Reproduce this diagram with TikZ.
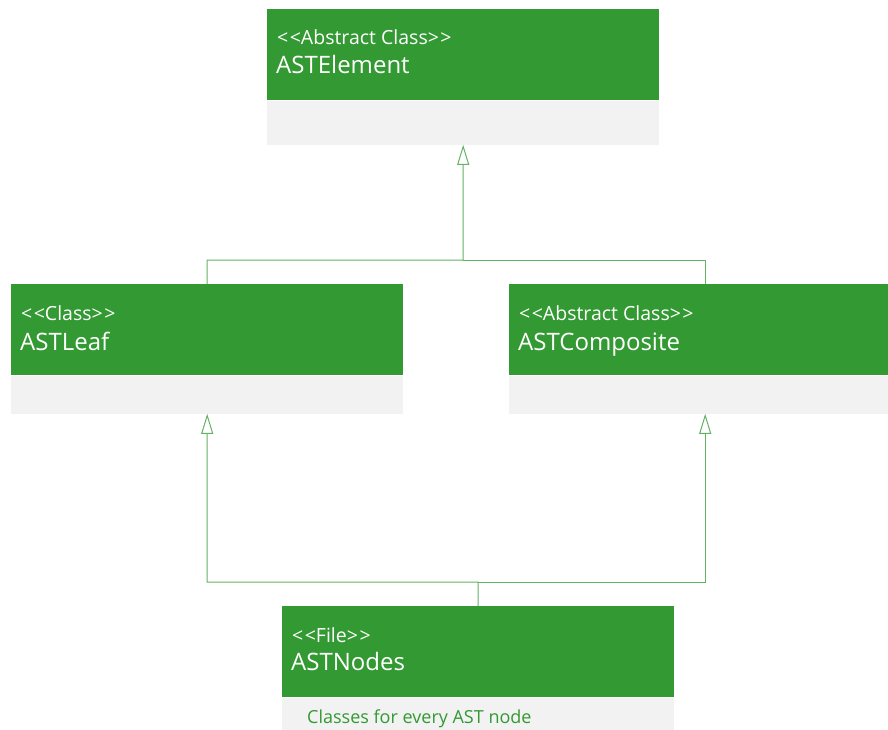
\documentclass[tikz,border=0pt]{standalone}
\usepackage{fontspec}
\setmainfont{Open Sans}
\usetikzlibrary{arrows.meta,calc}
\definecolor{umlgreen}{RGB}{51,153,51}
\definecolor{umlgray}{RGB}{242,242,242}
\definecolor{umlline}{RGB}{100,178,100}
\newcommand{\stereotype}[1]{<\kern1.5pt<#1>\kern1.5pt>}

\begin{document}
\begin{tikzpicture}[x=1pt,y=-1pt,
  headbox/.style={rectangle,fill=umlgreen,draw=none,inner sep=0pt,
    anchor=north west,minimum width=392pt,minimum height=91pt},
  bodybox/.style={rectangle,fill=umlgray,draw=none,inner sep=0pt,
    anchor=north,minimum width=392pt},
  stereo/.style={anchor=base west,inner sep=0pt,text=white,
    font=\fontsize{19.5}{22}\selectfont},
  cname/.style={anchor=base west,inner sep=0pt,text=white,
    font=\fontsize{24}{28}\selectfont},
  note/.style={anchor=base west,inner sep=0pt,text=umlgreen,
    font=\fontsize{18}{21}\selectfont},
  link/.style={draw=umlline,line width=1pt},
  inherit/.style={link,-{Triangle[open,width=12pt,length=20pt,fill=white]}}
]
\clip (0,0) rectangle (888,730);

% class boxes: green header and grey compartment
\node[headbox] (elemHead) at (267,9) {};
\node[bodybox,minimum height=44pt] (elemBody) at (elemHead.south) {};

\node[headbox] (leafHead) at (11,284) {};
\node[bodybox,minimum height=38pt] (leafBody) at (leafHead.south) {};

\node[headbox] (compHead) at (509,284) {};
\node[bodybox,minimum height=38pt] (compBody) at (compHead.south) {};

\node[headbox] (nodesHead) at (282,606) {};
\node[bodybox,minimum height=34pt] (nodesBody) at (nodesHead.south) {};

% header texts
\node[stereo] (elemSt) at ($(elemHead.north west)+(10,36)$) {\stereotype{Abstract Class}};
\node[cname] (elemNm) at ($(elemHead.north west)+(9,65)$) {ASTElement};

\node[stereo] (leafSt) at ($(leafHead.north west)+(10,36)$) {\stereotype{Class}};
\node[cname] (leafNm) at ($(leafHead.north west)+(9,66)$) {ASTLeaf};

\node[stereo] (compSt) at ($(compHead.north west)+(10,36)$) {\stereotype{Abstract Class}};
\node[cname] (compNm) at ($(compHead.north west)+(9,66)$) {ASTComposite};

\node[stereo] (nodesSt) at ($(nodesHead.north west)+(10,36)$) {\stereotype{File}};
\node[cname] (nodesNm) at ($(nodesHead.north west)+(9,64)$) {ASTNodes};

\node[note] (nodesNote) at ($(nodesBody.north west)+(25,26)$) {Classes for every AST node};

% generalisation: leaf and composite to element
\coordinate (topJoin) at (463,260);
\draw[inherit] (leafHead.north) |- (topJoin) -- (elemBody.south);
\draw[link] (compHead.north) |- (topJoin);

% file to leaf and composite
\coordinate (lowJoin) at (478,582);
\draw[inherit] (nodesHead.north) -- (lowJoin) -| (leafBody.south);
\draw[inherit] (lowJoin) -| (compBody.south);
\end{tikzpicture}
\end{document}
